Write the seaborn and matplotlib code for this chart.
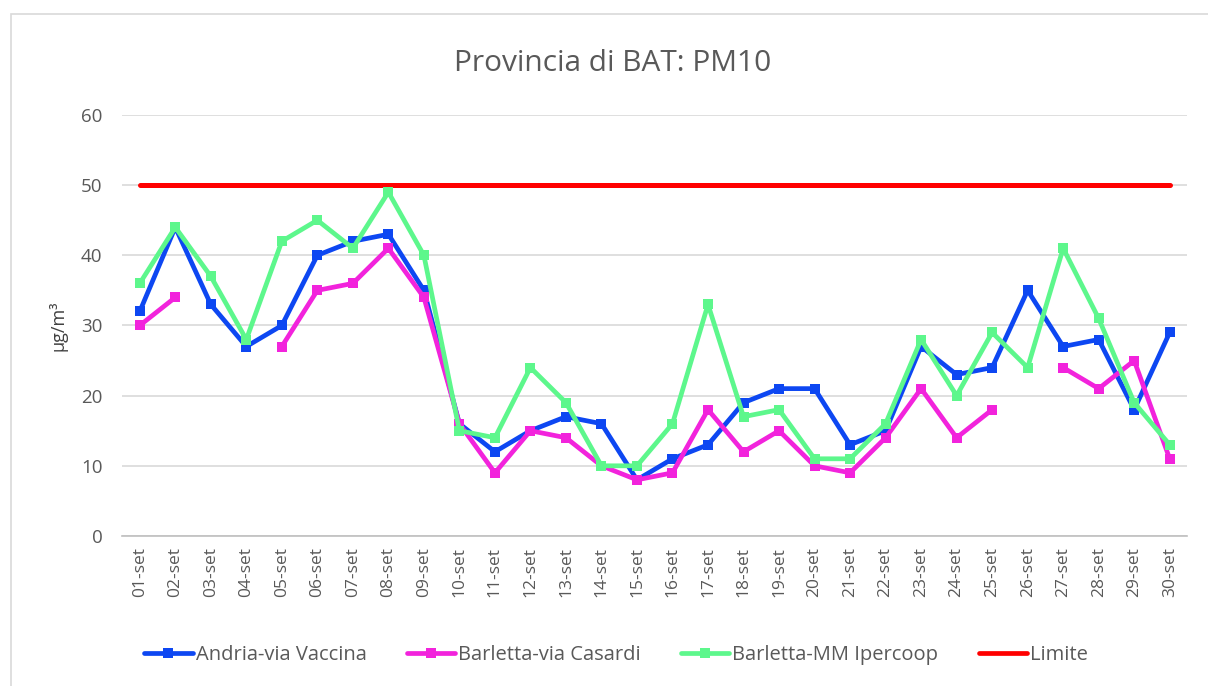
import numpy as np
import pandas as pd
import matplotlib
matplotlib.use("Agg")
import matplotlib.pyplot as plt
from matplotlib.lines import Line2D
from matplotlib.patches import Rectangle
import seaborn as sns

# --- data ---
days = [f"{d:02d}-set" for d in range(1, 31)]
andria = [32, 44, 33, 27, 30, 40, 42, 43, 35, 16, 12, 15, 17, 16, 8,
          11, 13, 19, 21, 21, 13, 15, 27, 23, 24, 35, 27, 28, 18, 29]
casardi = [30, 34, np.nan, np.nan, 27, 35, 36, 41, 34, 16, 9, 15, 14, 10, 8,
           9, 18, 12, 15, 10, 9, 14, 21, 14, 18, np.nan, 24, 21, 25, 11]
ipercoop = [36, 44, 37, 28, 42, 45, 41, 49, 40, 15, 14, 24, 19, 10, 10,
            16, 33, 17, 18, 11, 11, 16, 28, 20, 29, 24, 41, 31, 19, 13]
limite = [50] * 30

series_names = ["Andria-via Vaccina", "Barletta-via Casardi",
                "Barletta-MM Ipercoop", "Limite"]
colors = ["#0D47F2", "#F223DC", "#5DF78C", "#FF0000"]

# long-form table; split runs around missing values so gaps stay gaps
rows = []
for name, vals in zip(series_names, [andria, casardi, ipercoop, limite]):
    seg = 0
    for i, v in enumerate(vals):
        if np.isnan(v):
            seg += 1
            continue
        rows.append({"pos": i, "value": v, "series": name, "seg": f"{name}_{seg}"})
df = pd.DataFrame(rows)

sns.set_style("white")
plt.rcParams["font.family"] = ["Open Sans", "DejaVu Sans"]
text_col = "#595959"

fig = plt.figure(figsize=(12.08, 6.86), dpi=100)
ax = fig.add_axes([0.101, 0.2187, 0.882, 0.6137])

for name, col in zip(series_names, colors):
    sub = df[df["series"] == name]
    is_lim = name == "Limite"
    sns.lineplot(data=sub, x="pos", y="value", units="seg", estimator=None,
                 color=col, linewidth=3.4 if not is_lim else 3.6,
                 marker=None if is_lim else "s", markersize=7,
                 markeredgewidth=0, ax=ax, legend=False,
                 zorder=3 if not is_lim else 2)

ax.set_xlim(-0.5, 29.5)
ax.set_ylim(0, 60)
ax.set_yticks(range(0, 61, 10))
ax.set_xticks(range(30))
ax.set_xticklabels(days, rotation=90)
ax.set_xticks(np.arange(-0.5, 30, 1), minor=True)
ax.tick_params(axis="x", which="major", length=0, pad=8, labelsize=12.5, labelcolor=text_col)
ax.tick_params(axis="x", which="minor", length=7, color="#BFBFBF", width=1)
ax.tick_params(axis="y", length=0, pad=14, labelsize=13.5, labelcolor=text_col)
ax.grid(axis="y", color="#D9D9D9", linewidth=1.2)
ax.set_axisbelow(True)
for s in ["top", "right", "left"]:
    ax.spines[s].set_visible(False)
ax.spines["bottom"].set_color("#BFBFBF")
ax.spines["bottom"].set_linewidth(1.2)

ax.set_xlabel("")
ax.set_ylabel("µg/m³", fontsize=13, color="#404040", labelpad=10)
fig.text(0.507, 0.907, "Provincia di BAT: PM10", fontsize=21.5, color=text_col,
         ha="center", va="center")

handles = []
for name, col in zip(series_names, colors):
    handles.append(Line2D([], [], color=col, linewidth=3.4,
                          marker=None if name == "Limite" else "s",
                          markersize=7, markeredgewidth=0))
leg = fig.legend(handles, series_names, loc="center", bbox_to_anchor=(0.51, 0.045),
                 ncol=4, frameon=False, fontsize=14.5, handlelength=2.4,
                 handletextpad=0.15, columnspacing=2.0)
for t in leg.get_texts():
    t.set_color(text_col)

# light outer frame of the chart area
fig.patches.append(Rectangle((0.009, -0.01), 0.995, 0.99, transform=fig.transFigure,
                             fill=False, edgecolor="#D9D9D9", linewidth=1.2))

fig.savefig("out.png", dpi=100)
